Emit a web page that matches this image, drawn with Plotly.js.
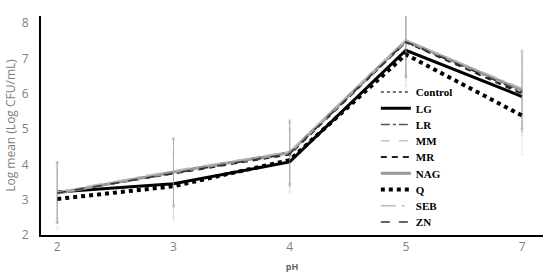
<!DOCTYPE html>
<html>
<head>
<meta charset="utf-8">
<script src="https://cdn.plot.ly/plotly-3.0.1.min.js"></script>
<style>
  html, body { margin: 0; padding: 0; background: #fff; }
  #plot { width: 550px; height: 279px; }
</style>
</head>
<body>
<div id="plot"></div>
<script>
// pH categories on the x axis
let phLabels = ['2', '3', '4', '5', '7'];

// log mean counts per treatment
let control = [3.20, 3.78, 4.32, 7.45, 6.10];
let lg      = [3.22, 3.45, 4.07, 7.23, 5.92];
let lr      = [3.18, 3.80, 4.35, 7.50, 6.05];
let mm      = [3.20, 3.76, 4.30, 7.48, 6.12];
let mr      = [3.20, 3.74, 4.28, 7.46, 6.00];
let nag     = [3.18, 3.78, 4.33, 7.50, 6.10];
let q       = [3.02, 3.38, 4.12, 7.11, 5.38];
let seb     = [3.22, 3.82, 4.36, 7.52, 6.15];
let zn      = [3.19, 3.75, 4.30, 7.47, 6.05];

// standard deviation, roughly the same for every treatment
let sd = [0.85, 0.95, 0.90, 1.00, 1.10];

// one small legend per trace so the rows sit as tight as in the original
let legendNames = ['legend', 'legend2', 'legend3', 'legend4', 'legend5',
                   'legend6', 'legend7', 'legend8', 'legend9'];

function makeTrace(i, name, values, line) {
  return {
    x: phLabels,
    y: values,
    name: name,
    legend: legendNames[i],
    type: 'scatter',
    mode: 'lines',
    cliponaxis: false,
    line: line,
    error_y: {
      type: 'data',
      array: sd,
      visible: true,
      color: 'rgba(160,160,160,0.3)',
      thickness: 0.7,
      width: 1.5
    }
  };
}

let data = [
  makeTrace(0, 'Control', control, { color: '#444', width: 1.5, dash: 'dot' }),
  makeTrace(1, 'LG', lg, { color: '#000', width: 3 }),
  makeTrace(2, 'LR', lr, { color: '#555', width: 1.5, dash: 'dashdot' }),
  makeTrace(3, 'MM', mm, { color: '#c4c4c4', width: 1.5, dash: 'dash' }),
  makeTrace(4, 'MR', mr, { color: '#222', width: 2, dash: '6px,5px' }),
  makeTrace(5, 'NAG', nag, { color: '#999', width: 3 }),
  makeTrace(6, 'Q', q, { color: '#000', width: 4, dash: 'dot' }),
  makeTrace(7, 'SEB', seb, { color: '#bbb', width: 1.5, dash: 'longdashdot' }),
  makeTrace(8, 'ZN', zn, { color: '#333', width: 1.5, dash: 'dash' })
];

let layout = {
  width: 550,
  height: 279,
  margin: { l: 41, r: 7, t: 16, b: 44 },
  paper_bgcolor: '#fff',
  plot_bgcolor: '#fff',
  showlegend: true,
  xaxis: {
    type: 'category',
    range: [-0.14, 4.18],
    showgrid: false,
    zeroline: false,
    showline: true,
    linecolor: '#000',
    linewidth: 2,
    ticks: '',
    tickfont: { family: 'Open Sans', size: 12, color: '#7f7f7f' },
    title: {
      text: 'pH',
      font: { family: 'Open Sans', size: 9, color: '#666', weight: 'bold' },
      standoff: 9
    }
  },
  yaxis: {
    range: [2, 8.2],
    tickvals: [2, 3, 4, 5, 6, 7, 8],
    showgrid: false,
    zeroline: false,
    showline: true,
    linecolor: '#000',
    linewidth: 2,
    ticks: '',
    ticklabelstandoff: 8,
    tickfont: { family: 'Open Sans', size: 12, color: '#7f7f7f' },
    title: {
      text: 'Log mean (Log CFU/mL)',
      font: { family: 'Open Sans', size: 12, color: '#7f7f7f' },
      standoff: 4
    }
  }
};

// legend rows: first row centred near y=92 px, 16.25 px apart
legendNames.forEach(function(name, i) {
  let rowPx = 92 + i * 16.25;
  layout[name] = {
    x: 0.667,
    y: (235 - rowPx) / 219,
    xanchor: 'left',
    yanchor: 'middle',
    bgcolor: 'rgba(0,0,0,0)',
    borderwidth: 0,
    font: { family: 'Liberation Serif', size: 11, color: '#000', weight: 'bold' }
  };
});

Plotly.newPlot('plot', data, layout, { displayModeBar: false, staticPlot: true });
</script>
</body>
</html>
